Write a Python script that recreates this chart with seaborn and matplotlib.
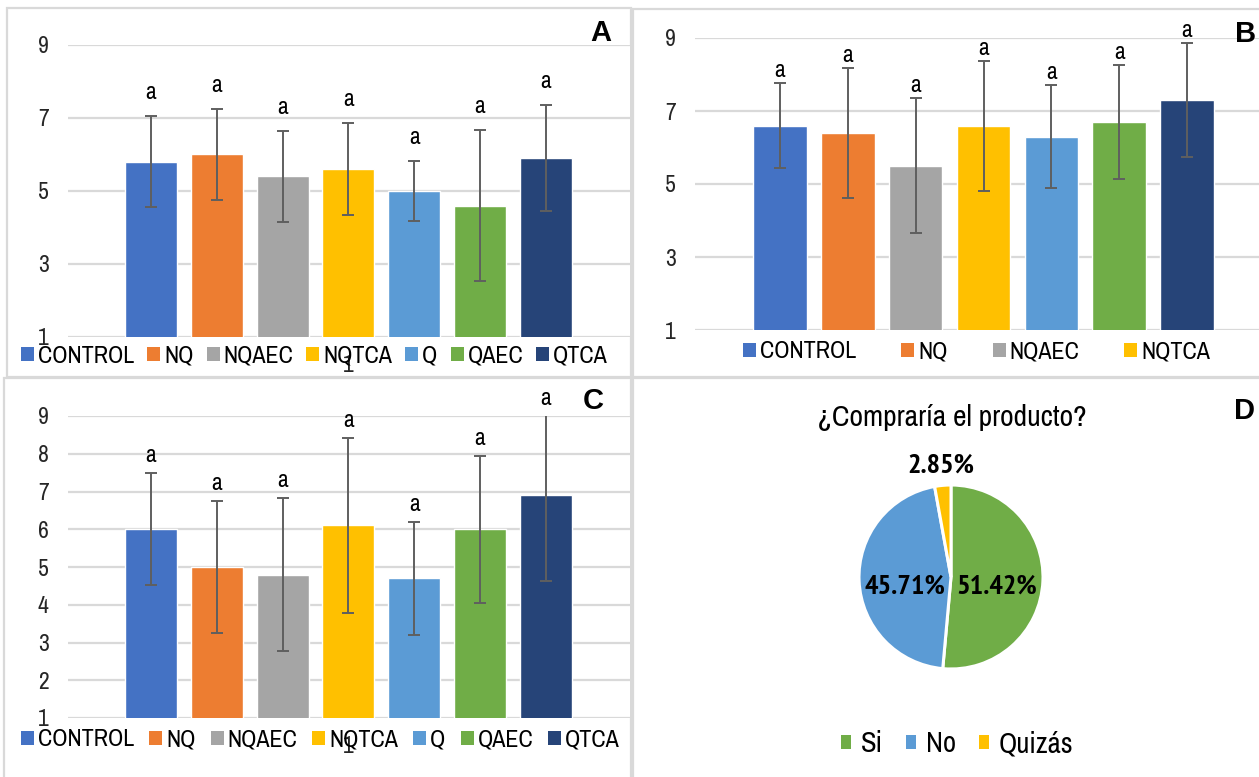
import numpy as np
import pandas as pd
import matplotlib
matplotlib.use("Agg")
import matplotlib.pyplot as plt
import seaborn as sns
from matplotlib.patches import Patch, Rectangle
from matplotlib import font_manager as fm
from matplotlib.textpath import TextPath

# ---------------- data ----------------
groups = ["CONTROL", "NQ", "NQAEC", "NQTCA", "Q", "QAEC", "QTCA"]
colors = ["#4472C4", "#ED7D31", "#A5A5A5", "#FFC000", "#5B9BD5", "#70AD47", "#264478"]

a_mean = [5.8, 6.0, 5.4, 5.6, 5.0, 4.6, 5.9]
a_sd = [1.25, 1.25, 1.25, 1.27, 0.82, 2.07, 1.45]
b_mean = [6.6, 6.4, 5.5, 6.6, 6.3, 6.7, 7.3]
b_sd = [1.17, 1.78, 1.85, 1.78, 1.42, 1.57, 1.57]
c_mean = [6.0, 5.0, 4.8, 6.1, 4.7, 6.0, 6.9]
c_sd = [1.49, 1.76, 2.03, 2.33, 1.50, 1.95, 2.28]
letters = ["a", "a", "a", "a", "a", "a", "a"]

ab_ticks = [1, 3, 5, 7, 9]
c_ticks = [1, 2, 3, 4, 5, 6, 7, 8, 9]
cat_label = "1"

pie_labels = ["Si", "No", "Quizás"]
pie_values = [51.42, 45.71, 2.85]
pie_colors = ["#70AD47", "#5B9BD5", "#FFC000"]
pie_title = "¿Compraría el producto?"

# ---------------- fonts ----------------
sns.set_theme(style="white")
ttf = fm.fontManager.ttflist
available = {f.name for f in ttf}
candidates = ["Liberation Sans Narrow", "Arial Narrow", "Archivo Narrow",
              "PT Sans Narrow", "Roboto Condensed", "Arimo", "Liberation Sans"]
main_font = next((c for c in candidates if c in available), "DejaVu Sans")


def has_bold(name):
    for f in ttf:
        if f.name == name:
            w = f.weight
            if (isinstance(w, int) and w >= 700) or w in ("bold", "heavy", "black"):
                return True
    return False


bold_font = next((c for c in candidates if c in available and has_bold(c)),
                 "DejaVu Sans")
NARROW = [main_font, "DejaVu Sans"]
BOLDN = [bold_font, "DejaVu Sans"]
plt.rcParams["font.family"] = NARROW
plt.rcParams["text.color"] = "black"


def fit_size(text, target_px, base, fam, weight="normal"):
    w = TextPath((0, 0), text, size=base * 100 / 72,
                 prop=fm.FontProperties(family=fam, weight=weight)).get_extents().width
    return base * min(1.15, target_px / w)


FS = fit_size("CONTROL", 95, 17, NARROW)            # legends
FS_TK = 17                                           # tick labels / letters
FS_T = fit_size(pie_title, 267, 21, NARROW)         # pie title
FS_L = fit_size("Quizás", 72, 20, NARROW)           # pie legend
FS_P = fit_size("51.42%", 78, 20, BOLDN, "bold")    # pie labels

W, H = 1259, 777
fig = plt.figure(figsize=(W / 100, H / 100), dpi=100)
fig.patch.set_facecolor("white")


def px_rect(x0, y0, x1, y1):
    return [x0 / W, 1 - y1 / H, (x1 - x0) / W, (y1 - y0) / H]


# panel frames
for (x0, y0, x1, y1) in [(7, 8, 631, 377), (633, 9, 1262, 377),
                         (4, 378, 631, 780), (633, 378, 1262, 780)]:
    fig.add_artist(Rectangle((x0 / W, 1 - y1 / H), (x1 - x0) / W, (y1 - y0) / H,
                             transform=fig.transFigure, fill=False,
                             edgecolor="#d9d9d9", lw=1.6, zorder=0))


def bar_panel(box, means, sds, ticks, xlim, letter_off, show_cat, leg_n,
              leg_anchor, colspace_px):
    ax = fig.add_axes(px_rect(*box))
    df = pd.DataFrame({"grupo": groups, "valor": means})
    sns.barplot(data=df, x="grupo", y="valor", hue="grupo", palette=colors,
                saturation=1, width=0.79, legend=False, ax=ax, zorder=2)
    ax.errorbar(np.arange(len(groups)), means, yerr=sds, fmt="none",
                ecolor="#5f5f5f", elinewidth=1.4, capsize=4.5, capthick=1.4,
                zorder=3)
    for i, (m, s, t) in enumerate(zip(means, sds, letters)):
        top = min(m + s, 9.0)
        ax.annotate(t, (i, top), xytext=(0, letter_off), textcoords="offset pixels",
                    ha="center", va="baseline", fontsize=FS_TK,
                    annotation_clip=False, zorder=4)
    ax.set_ylim(1, 9)
    ax.set_xlim(*xlim)
    ax.set_yticks(ticks)
    ax.set_yticklabels([str(t) for t in ticks])
    ax.yaxis.grid(True, color="#d9d9d9", lw=1.6, zorder=0)
    ax.xaxis.grid(False)
    ax.set_axisbelow(True)
    for sp in ax.spines.values():
        sp.set_visible(False)
    ax.set_xlabel("")
    ax.set_ylabel("")
    ax.tick_params(axis="y", length=0, pad=14, labelsize=FS_TK)
    if show_cat:
        ax.set_xticks([3])
        ax.set_xticklabels([cat_label])
        ax.tick_params(axis="x", length=0, pad=13, labelsize=FS_TK)
    else:
        ax.set_xticks([])
    em = FS * 100 / 72
    handles = [Patch(facecolor=c, edgecolor="none") for c in colors[:leg_n]]
    fig.legend(handles, groups[:leg_n], loc="center left",
               bbox_to_anchor=(leg_anchor[0] / W, 1 - leg_anchor[1] / H),
               bbox_transform=fig.transFigure, ncol=leg_n, frameon=False,
               fontsize=FS, handlelength=13 / em, handleheight=13 / em,
               handletextpad=4 / em, columnspacing=colspace_px / em,
               borderpad=0, borderaxespad=0)
    return ax


# Panel A
bar_panel((68, 45, 630, 337), a_mean, a_sd, ab_ticks, (-1.261, 7.28), 17, True,
          7, (21, 356), 13)
# Panel B (plot area runs past the right edge of the picture)
bar_panel((695, 38, 1272, 330), b_mean, b_sd, ab_ticks, (-1.254, 7.254), 6, False,
          4, (743, 352), 45)
# Panel C
bar_panel((68, 416, 630, 718), c_mean, c_sd, c_ticks, (-1.261, 7.28), 11, True,
          7, (21, 740), 15)

# Panel letters
for txt, x, y in [("A", 601, 33), ("B", 1246, 34), ("C", 593, 401), ("D", 1244, 411)]:
    fig.text(x / W, 1 - y / H, txt, ha="center", va="center", fontsize=21,
             fontweight="bold", family=["Liberation Sans", "DejaVu Sans"])

# Panel D: pie
cx, cy, r = 951, 577, 92
axp = fig.add_axes(px_rect(cx - r, cy - r, cx + r, cy + r))
wedges, _ = axp.pie(pie_values, colors=pie_colors, startangle=90,
                    counterclock=False,
                    wedgeprops=dict(edgecolor="white", linewidth=2.2))
axp.set_xlim(-1, 1)
axp.set_ylim(-1, 1)
axp.set_aspect("auto")
for w, v, rr, dy in zip(wedges, pie_values, [0.5, 0.5, 1.22], [-0.08, -0.08, 0.0]):
    ang = np.deg2rad((w.theta1 + w.theta2) / 2)
    axp.text(rr * np.cos(ang), rr * np.sin(ang) + dy, f"{v:.2f}%",
             ha="center", va="center", fontsize=FS_P, fontweight="bold",
             family=BOLDN, clip_on=False)
fig.text(952 / W, 1 - 418 / H, pie_title, ha="center", va="center", fontsize=FS_T)
emp = FS_L * 100 / 72
ph = [Patch(facecolor=c, edgecolor="none") for c in pie_colors]
fig.legend(ph, pie_labels, loc="center", bbox_to_anchor=(957 / W, 1 - 744 / H),
           bbox_transform=fig.transFigure, ncol=3, frameon=False, fontsize=FS_L,
           handlelength=10 / emp, handleheight=10 / emp, handletextpad=10 / emp,
           columnspacing=23 / emp, borderpad=0, borderaxespad=0)

fig.savefig("out.png", dpi=100, facecolor="white")
